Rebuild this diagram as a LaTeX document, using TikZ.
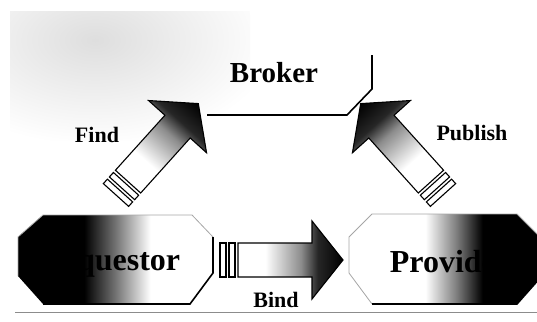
\documentclass[tikz,border=0pt]{standalone}
\usepackage{fontspec}
\setmainfont{Liberation Serif}
\pgfdeclarehorizontalshading{reqshade}{100bp}{color(0bp)=(black); color(42bp)=(black); color(50bp)=(black!55); color(59bp)=(white); color(100bp)=(white)}
\pgfdeclarehorizontalshading{provshade}{100bp}{color(0bp)=(white); color(45bp)=(white); color(53bp)=(black!50); color(60bp)=(black); color(100bp)=(black)}
\pgfdeclarehorizontalshading{arrshade}{100bp}{color(0bp)=(white); color(38bp)=(white); color(55bp)=(black!45); color(63bp)=(black!85); color(75bp)=(black); color(100bp)=(black)}
\newcommand{\servarrow}[2]{%
  \begin{scope}[transform canvas={shift={#1},rotate=#2}]
    \shadedraw[shading=arrshade, arrline] (18,-17) -- (92,-17) -- (92,-39) -- (123,0) -- (92,39) -- (92,17) -- (18,17) -- cycle;
    \filldraw[band] (0,-17) rectangle (6,17);
    \filldraw[band] (9,-17) rectangle (15,17);
  \end{scope}}
\tikzset{
  arrline/.style={draw=black, line width=1.1pt, line join=miter},
  band/.style={fill=white, draw=black, line width=1.1pt},
  darkedge/.style={draw=black, line width=1.6pt, line join=miter},
  lightedge/.style={draw=black!35, line width=0.8pt, line join=miter},
  lblbig/.style={font=\bfseries\fontsize{32}{36}\selectfont, anchor=base, inner sep=0pt},
  lblbroker/.style={font=\bfseries\fontsize{29}{33}\selectfont, anchor=base, inner sep=0pt},
  lblsmall/.style={font=\bfseries\fontsize{22}{26}\selectfont, anchor=base, inner sep=0pt}
}
\begin{document}
\begin{tikzpicture}[x=1pt, y=-1pt]
  \useasboundingbox (0,0) rectangle (537,321);
  % faint speckled area top-left
  \begin{scope}
    \clip (10,12) rectangle (250,140);
    \shade[inner color=black!13, outer color=white] (95,40) ellipse [x radius=180, y radius=105];
  \end{scope}
  % bottom line
  \draw[black!45, line width=0.7pt] (15,312) -- (537,312);
  % Requestor shape
  \shade[shading=reqshade] (43,215) -- (192,215) -- (213,237) -- (213,273) -- (190,304) -- (43,304) -- (18,276) -- (18,237) -- cycle;
  \draw[lightedge] (18,276) -- (18,237) -- (43,215) -- (192,215) -- (213,237);
  \draw[darkedge] (213,237) -- (213,273) -- (190,304) -- (43,304);
  % Provider shape
  \shade[shading=provshade] (372,214) -- (517,214) -- (540,237) -- (540,278) -- (517,304) -- (372,304) -- (349,273) -- (349,237) -- cycle;
  \draw[lightedge] (372,304) -- (349,273) -- (349,237) -- (372,214) -- (517,214) -- (540,237);
  \draw[darkedge] (540,278) -- (517,304) -- (372,304);
  % Broker outline
  \draw[darkedge] (207,115) -- (347,115) -- (372,89) -- (372,55);
  % arrows
  \servarrow{(116,195)}{48}
  \servarrow{(443,195)}{132}
  \servarrow{(220,260)}{0}
  % labels
  \node[lblbroker] (broker) at (274,82) {Broker};
  \node[lblsmall] (find) at (97,142) {Find};
  \node[lblsmall] (publish) at (472,140) {Publish};
  \node[lblsmall] (bind) at (276,307) {Bind};
  \node[lblbig] (req) at (110,270) {Requestor};
  \node[lblbig] (prov) at (450,272) {Provider};
\end{tikzpicture}
\end{document}
